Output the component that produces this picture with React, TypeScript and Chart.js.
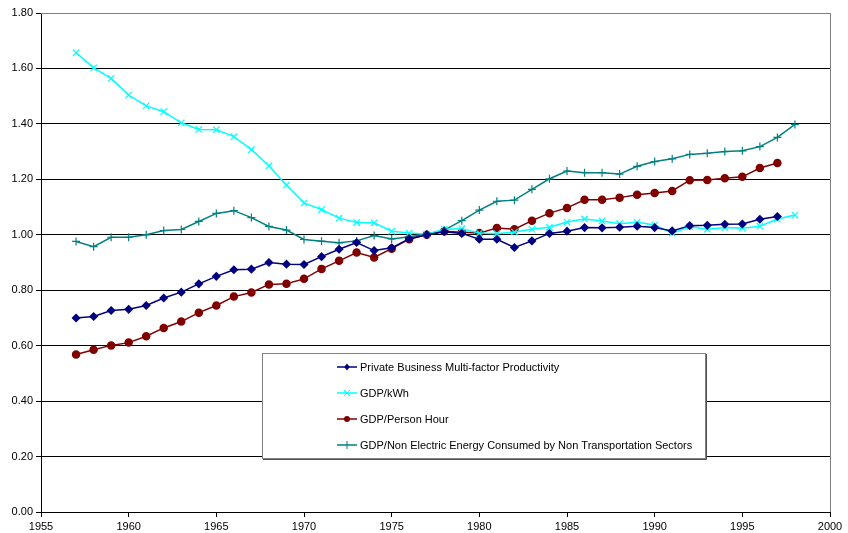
import React, { useEffect, useRef } from "react";
import { Chart, registerables } from "chart.js";

Chart.register(...registerables);

const yearsLong = [
  1957, 1958, 1959, 1960, 1961, 1962, 1963, 1964, 1965, 1966, 1967, 1968, 1969, 1970,
  1971, 1972, 1973, 1974, 1975, 1976, 1977, 1978, 1979, 1980, 1981, 1982, 1983, 1984,
  1985, 1986, 1987, 1988, 1989, 1990, 1991, 1992, 1993, 1994, 1995, 1996, 1997, 1998,
];
const yearsShort = yearsLong.slice(0, 41);

const mfpValues = [
  0.70, 0.705, 0.727, 0.731, 0.745, 0.772, 0.793, 0.823, 0.850, 0.874, 0.876, 0.900, 0.894, 0.893,
  0.921, 0.948, 0.972, 0.943, 0.953, 0.986, 1.000, 1.011, 1.005, 0.984, 0.984, 0.954, 0.978, 1.005,
  1.013, 1.026, 1.025, 1.027, 1.031, 1.026, 1.014, 1.033, 1.034, 1.038, 1.039, 1.056, 1.066,
];
const kwhValues = [
  1.657, 1.602, 1.564, 1.504, 1.465, 1.444, 1.404, 1.380, 1.379, 1.354, 1.307, 1.249, 1.179, 1.115,
  1.091, 1.060, 1.044, 1.043, 1.013, 1.006, 1.002, 1.020, 1.022, 1.006, 1.004, 1.010, 1.020, 1.027,
  1.046, 1.057, 1.050, 1.040, 1.045, 1.035, 1.006, 1.029, 1.020, 1.026, 1.024, 1.031, 1.057, 1.071,
];
const personHourValues = [
  0.568, 0.585, 0.601, 0.611, 0.634, 0.664, 0.687, 0.719, 0.745, 0.777, 0.792, 0.821, 0.823, 0.841,
  0.877, 0.906, 0.936, 0.918, 0.950, 0.984, 1.000, 1.013, 1.009, 1.006, 1.024, 1.020, 1.051, 1.078,
  1.097, 1.126, 1.126, 1.134, 1.144, 1.151, 1.158, 1.197, 1.198, 1.204, 1.209, 1.241, 1.259,
];
const nonElecValues = [
  0.976, 0.957, 0.991, 0.991, 1.000, 1.015, 1.019, 1.048, 1.077, 1.087, 1.062, 1.030, 1.017, 0.983,
  0.977, 0.971, 0.978, 0.997, 0.985, 0.993, 1.002, 1.017, 1.051, 1.089, 1.121, 1.125, 1.164, 1.202,
  1.230, 1.224, 1.224, 1.219, 1.247, 1.264, 1.274, 1.290, 1.294, 1.300, 1.303, 1.318, 1.351, 1.398,
];

const seriesLabels = [
  "Private Business Multi-factor Productivity",
  "GDP/kWh",
  "GDP/Person Hour",
  "GDP/Non Electric Energy Consumed by Non Transportation Sectors",
];

const FONT = "'Liberation Sans', Arial, sans-serif";

function pts(xs: number[], ys: number[]) {
  return ys.map((y, i) => ({ x: xs[i], y }));
}

const legendPlugin = {
  id: "boxLegend",
  afterDraw(chart: any) {
    const ctx = chart.ctx;
    const ca = chart.chartArea;
    const left = ca.left + 221;
    const top = ca.top + 340;
    const w = 443;
    const h = 105;
    ctx.save();
    ctx.fillStyle = "#ffffff";
    ctx.fillRect(left, top, w, h);
    ctx.strokeStyle = "#808080";
    ctx.lineWidth = 1;
    ctx.strokeRect(left + 0.5, top + 0.5, w, h);
    ctx.strokeStyle = "#505050";
    ctx.beginPath();
    ctx.moveTo(left + 1, top + h + 1.5);
    ctx.lineTo(left + w + 1.5, top + h + 1.5);
    ctx.lineTo(left + w + 1.5, top + 1);
    ctx.stroke();
    chart.data.datasets.forEach((ds: any, i: number) => {
      const y = top + 14 + i * 26;
      const x0 = left + 75;
      ctx.strokeStyle = ds.borderColor;
      ctx.lineWidth = 1.5;
      ctx.beginPath();
      ctx.moveTo(x0, y);
      ctx.lineTo(x0 + 20, y);
      ctx.stroke();
      ctx.fillStyle = ds.pointBackgroundColor;
      ctx.strokeStyle = ds.pointBorderColor;
      ctx.lineWidth = 1;
      const r = ds.pointRadius;
      const cx = x0 + 10;
      const st = ds.pointStyle;
      if (st === "rectRot") {
        ctx.beginPath();
        ctx.moveTo(cx, y - r);
        ctx.lineTo(cx + r * 0.8, y);
        ctx.lineTo(cx, y + r);
        ctx.lineTo(cx - r * 0.8, y);
        ctx.closePath();
        ctx.fill();
      } else if (st === "circle") {
        ctx.beginPath();
        ctx.arc(cx, y, r - 0.5, 0, Math.PI * 2);
        ctx.fill();
      } else if (st === "crossRot") {
        const d = r * 0.7;
        ctx.beginPath();
        ctx.moveTo(cx - d, y - d);
        ctx.lineTo(cx + d, y + d);
        ctx.moveTo(cx + d, y - d);
        ctx.lineTo(cx - d, y + d);
        ctx.stroke();
      } else {
        ctx.beginPath();
        ctx.moveTo(cx, y - r);
        ctx.lineTo(cx, y + r);
        ctx.stroke();
      }
      ctx.fillStyle = "#000000";
      ctx.font = `11px ${FONT}`;
      ctx.textAlign = "left";
      ctx.textBaseline = "middle";
      ctx.fillText(seriesLabels[i], x0 + 23, y + 0.5);
    });
    ctx.restore();
  },
};

const borderPlugin = {
  id: "plotBorder",
  afterDatasetsDraw(chart: any) {
    const ctx = chart.ctx;
    const ca = chart.chartArea;
    ctx.save();
    ctx.strokeStyle = "#808080";
    ctx.lineWidth = 1;
    ctx.beginPath();
    ctx.moveTo(Math.round(ca.left), Math.round(ca.top) + 0.5);
    ctx.lineTo(Math.round(ca.right) + 0.5, Math.round(ca.top) + 0.5);
    ctx.lineTo(Math.round(ca.right) + 0.5, Math.round(ca.bottom));
    ctx.stroke();
    ctx.restore();
  },
};

export default function App() {
  const ref = useRef<HTMLCanvasElement | null>(null);
  useEffect(() => {
    document.body.style.margin = "0";
    const canvas = ref.current;
    if (!canvas) return;
    const chart = new Chart(canvas, {
      type: "line",
      data: {
        datasets: [
          {
            label: seriesLabels[0],
            data: pts(yearsShort, mfpValues),
            borderColor: "#000080",
            backgroundColor: "#000080",
            pointBackgroundColor: "#000080",
            pointBorderColor: "#000080",
            pointStyle: "rectRot",
            pointRadius: 3.5,
            borderWidth: 1.5,
          },
          {
            label: seriesLabels[1],
            data: pts(yearsLong, kwhValues),
            borderColor: "#00FFFF",
            backgroundColor: "#00FFFF",
            pointBackgroundColor: "#00FFFF",
            pointBorderColor: "#00FFFF",
            pointStyle: "crossRot",
            pointRadius: 4.5,
            pointBorderWidth: 1.2,
            borderWidth: 1.5,
          },
          {
            label: seriesLabels[2],
            data: pts(yearsShort, personHourValues),
            borderColor: "#800000",
            backgroundColor: "#800000",
            pointBackgroundColor: "#800000",
            pointBorderColor: "#800000",
            pointStyle: "circle",
            pointRadius: 3.5,
            borderWidth: 1.5,
          },
          {
            label: seriesLabels[3],
            data: pts(yearsLong, nonElecValues),
            borderColor: "#008080",
            backgroundColor: "#008080",
            pointBackgroundColor: "#008080",
            pointBorderColor: "#008080",
            pointStyle: "cross",
            pointRadius: 4,
            pointBorderWidth: 1.2,
            borderWidth: 1.5,
          },
        ],
      },
      options: {
        responsive: false,
        animation: false,
        events: [],
        layout: { padding: { top: 13, right: 18, left: 0, bottom: 0 } },
        plugins: { legend: { display: false }, tooltip: { enabled: false } },
        scales: {
          x: {
            type: "linear",
            min: 1955,
            max: 2000,
            afterFit: (s: any) => {
              s.height = 21;
            },
            ticks: {
              stepSize: 5,
              callback: (v: any) => String(v),
              color: "#000000",
              font: { family: FONT, size: 11 },
              padding: 3,
              maxRotation: 0,
            },
            grid: {
              drawOnChartArea: false,
              color: "#000000",
              tickColor: "#000000",
              tickLength: 5,
            },
            border: { color: "#000000", width: 1 },
          },
          y: {
            min: 0,
            max: 1.8,
            afterFit: (s: any) => {
              s.width = 41;
            },
            ticks: {
              stepSize: 0.2,
              callback: (v: any) => Number(v).toFixed(2),
              color: "#000000",
              font: { family: FONT, size: 11 },
              padding: 3,
            },
            grid: {
              color: (c: any) => (c.tick && Math.abs(c.tick.value - 1.8) < 1e-6 ? "#808080" : "#000000"),
              tickColor: "#000000",
              tickLength: 5,
              lineWidth: 1,
            },
            border: { color: "#000000", width: 1 },
          },
        },
      },
      plugins: [borderPlugin, legendPlugin],
    } as any);
    return () => chart.destroy();
  }, []);
  return (
    <div style={{ width: 848, height: 533, background: "#ffffff" }}>
      <canvas ref={ref} width={848} height={533} style={{ display: "block" }} />
    </div>
  );
}
